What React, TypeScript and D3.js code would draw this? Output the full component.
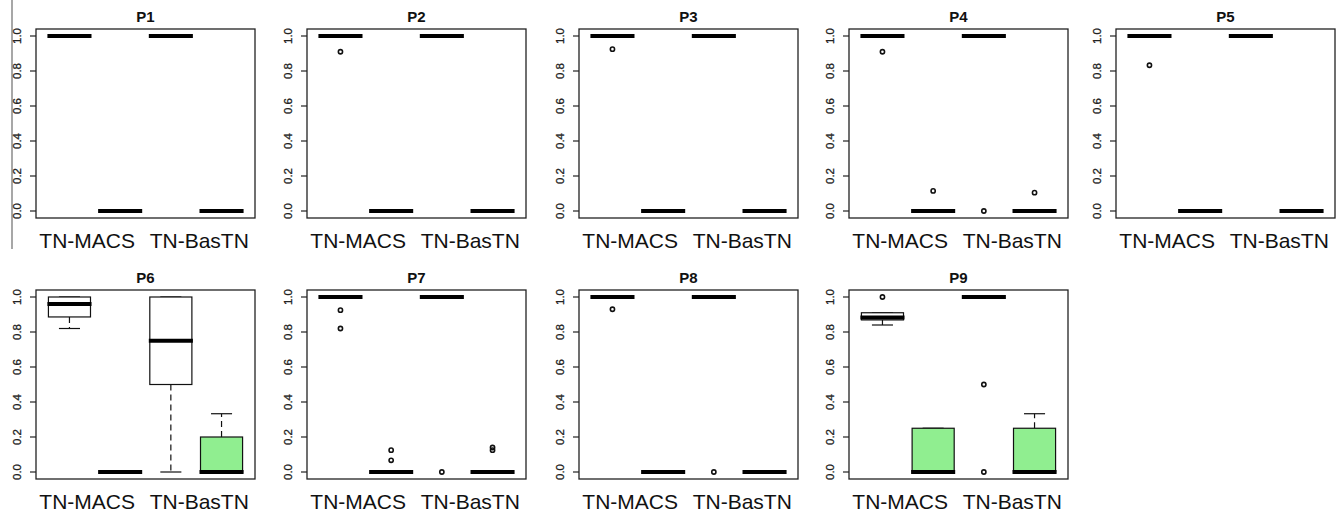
import React from "react";
import * as d3 from "d3";

const panelTitles = ["P1", "P2", "P3", "P4", "P5", "P6", "P7", "P8", "P9"];
const groupPositions = [1, 2, 3, 4];
const groupFills = ["#ffffff", "#90ee90", "#ffffff", "#90ee90"];
const xLabels = ["TN-MACS", "TN-BasTN"];
const xLabelPositions = [1.35, 3.56];
const yTicks = [0, 0.2, 0.4, 0.6, 0.8, 1.0];

// [lower whisker, Q1, median, Q3, upper whisker] for each of the 4 groups
const P1_stats = [[1, 1, 1, 1, 1], [0, 0, 0, 0, 0], [1, 1, 1, 1, 1], [0, 0, 0, 0, 0]];
const P1_outliers = [[], [], [], []];
const P2_stats = [[1, 1, 1, 1, 1], [0, 0, 0, 0, 0], [1, 1, 1, 1, 1], [0, 0, 0, 0, 0]];
const P2_outliers = [[0.91], [], [], []];
const P3_stats = [[1, 1, 1, 1, 1], [0, 0, 0, 0, 0], [1, 1, 1, 1, 1], [0, 0, 0, 0, 0]];
const P3_outliers = [[0.925], [], [], []];
const P4_stats = [[1, 1, 1, 1, 1], [0, 0, 0, 0, 0], [1, 1, 1, 1, 1], [0, 0, 0, 0, 0]];
const P4_outliers = [[0.91], [0.115], [0], [0.105]];
const P5_stats = [[1, 1, 1, 1, 1], [0, 0, 0, 0, 0], [1, 1, 1, 1, 1], [0, 0, 0, 0, 0]];
const P5_outliers = [[0.833], [], [], []];
const P6_stats = [[0.82, 0.886, 0.96, 1, 1], [0, 0, 0, 0, 0], [0, 0.5, 0.75, 1, 1], [0, 0, 0, 0.2, 0.333]];
const P6_outliers = [[], [], [], []];
const P7_stats = [[1, 1, 1, 1, 1], [0, 0, 0, 0, 0], [1, 1, 1, 1, 1], [0, 0, 0, 0, 0]];
const P7_outliers = [[0.925, 0.82], [0.125, 0.067], [0], [0.14, 0.125]];
const P8_stats = [[1, 1, 1, 1, 1], [0, 0, 0, 0, 0], [1, 1, 1, 1, 1], [0, 0, 0, 0, 0]];
const P8_outliers = [[0.93], [], [0], []];
const P9_stats = [[0.84, 0.869, 0.883, 0.91, 0.91], [0, 0, 0, 0.25, 0.25], [1, 1, 1, 1, 1], [0, 0, 0, 0.25, 0.333]];
const P9_outliers = [[1], [], [0.5, 0], []];

const allStats = [P1_stats, P2_stats, P3_stats, P4_stats, P5_stats, P6_stats, P7_stats, P8_stats, P9_stats];
const allOutliers = [P1_outliers, P2_outliers, P3_outliers, P4_outliers, P5_outliers, P6_outliers, P7_outliers, P8_outliers, P9_outliers];

const W = 1343;
const H = 514;
const colLefts = [36, 307, 579, 849, 1116];
const rowTops = [29, 290];
const panelW = 219;
const panelH = 189;
const boxWidth = 0.83;
const font = "'Liberation Sans', Arial, Helvetica, sans-serif";

function Panel({ idx }: { idx: number }) {
  const col = idx % 5;
  const row = Math.floor(idx / 5);
  const left = colLefts[col];
  const top = rowTops[row];
  const x = d3.scaleLinear().domain([0.34, 4.66]).range([left, left + panelW]);
  const y = d3.scaleLinear().domain([-0.04, 1.04]).range([top + panelH, top]);
  const stats = allStats[idx];
  const outs = allOutliers[idx];
  const bw = x(boxWidth) - x(0);
  return (
    <g>
      <text x={left + panelW / 2} y={top - 7} textAnchor="middle" fontFamily={font} fontWeight="bold" fontSize={15} fill="#111">
        {panelTitles[idx]}
      </text>
      {stats.map((s, g) => {
        const cx = x(groupPositions[g]);
        const [lo, q1, med, q3, hi] = s;
        return (
          <g key={g}>
            {hi > q3 && <line x1={cx} x2={cx} y1={y(q3)} y2={y(hi)} stroke="#111" strokeWidth={1.2} strokeDasharray="6,4" />}
            {lo < q1 && <line x1={cx} x2={cx} y1={y(q1)} y2={y(lo)} stroke="#111" strokeWidth={1.2} strokeDasharray="6,4" />}
            <line x1={cx - bw / 4} x2={cx + bw / 4} y1={y(hi)} y2={y(hi)} stroke="#111" strokeWidth={1.2} />
            <line x1={cx - bw / 4} x2={cx + bw / 4} y1={y(lo)} y2={y(lo)} stroke="#111" strokeWidth={1.2} />
            <rect x={cx - bw / 2} y={y(q3)} width={bw} height={Math.max(0, y(q1) - y(q3))} fill={groupFills[g]} stroke="#111" strokeWidth={1.2} />
            <line x1={cx - bw / 2 - 1} x2={cx + bw / 2 + 1} y1={y(med)} y2={y(med)} stroke="#000" strokeWidth={4} />
            {outs[g].map((o, k) => (
              <circle key={k} cx={cx} cy={y(o)} r={2.1} fill="none" stroke="#111" strokeWidth={1.6} />
            ))}
          </g>
        );
      })}
      <rect x={left} y={top} width={panelW} height={panelH} fill="none" stroke="#222" strokeWidth={1.3} />
      {yTicks.map((t) => (
        <g key={t}>
          <line x1={left - 6} x2={left} y1={y(t)} y2={y(t)} stroke="#222" strokeWidth={1.2} />
          <text
            transform={`translate(${left - 15},${y(t)}) rotate(-90)`}
            textAnchor="middle"
            fontFamily={font}
            fontSize={11.5}
            fill="#222"
            stroke="#222"
            strokeWidth={0.3}
          >
            {t.toFixed(1)}
          </text>
        </g>
      ))}
      {xLabels.map((lab, i) => (
        <text key={lab} x={x(xLabelPositions[i])} y={top + panelH + 30} textAnchor="middle" fontFamily={font} fontSize={21} fill="#111">
          {lab}
        </text>
      ))}
    </g>
  );
}

export default function App() {
  return (
    <svg width={W} height={H} style={{ position: "absolute", left: 0, top: 0, background: "#fff" }}>
      <rect x={0} y={0} width={W} height={H} fill="#fff" />
      <line x1={12} x2={12} y1={0} y2={249} stroke="#8a8a8a" strokeWidth={1.5} />
      {panelTitles.map((_, i) => (
        <Panel key={i} idx={i} />
      ))}
    </svg>
  );
}
